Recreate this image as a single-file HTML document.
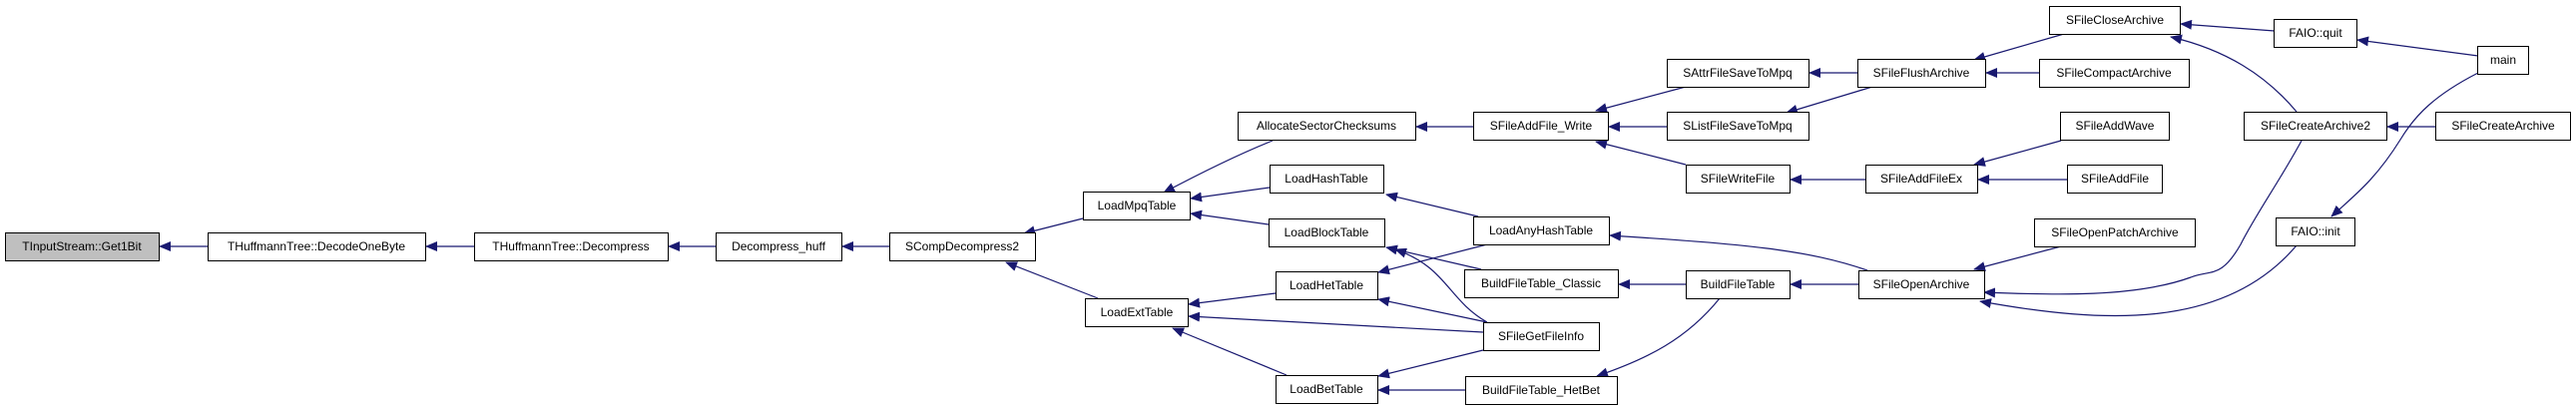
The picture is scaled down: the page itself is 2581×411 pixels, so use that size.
<!DOCTYPE html>
<html><head><meta charset="utf-8"><style>
html,body{margin:0;padding:0;background:#fff;}
svg{display:block}
text{font-family:"Liberation Sans",sans-serif;font-size:12px;fill:#000;text-anchor:middle;dominant-baseline:central}
.e{fill:none;stroke:#191970;stroke-width:1.2}
rect{fill:#fff;stroke:#000;stroke-width:1}
</style></head><body>
<svg width="2581" height="411" viewBox="0 0 2581 411" xmlns="http://www.w3.org/2000/svg">
<defs><marker id="a" markerWidth="12" markerHeight="10" refX="11" refY="5" orient="auto" markerUnits="userSpaceOnUse"><path d="M0,0 L12,5 L0,10 z" fill="#191970"/></marker></defs>
<g class="edges">
<path class="e" marker-end="url(#a)" d="M208,247 L160,247"/>
<path class="e" marker-end="url(#a)" d="M475,247 L427,247"/>
<path class="e" marker-end="url(#a)" d="M717,247 L670,247"/>
<path class="e" marker-end="url(#a)" d="M891,247 L844,247"/>
<path class="e" marker-end="url(#a)" d="M1085,219 L1026,234"/>
<path class="e" marker-end="url(#a)" d="M1100,299 L1008,263"/>
<path class="e" marker-end="url(#a)" d="M1275,141 C1240,155 1200,175 1166,193"/>
<path class="e" marker-end="url(#a)" d="M1272,188 L1193,199"/>
<path class="e" marker-end="url(#a)" d="M1271,225 L1193,214"/>
<path class="e" marker-end="url(#a)" d="M1476,127 L1419,127"/>
<path class="e" marker-end="url(#a)" d="M1278,294 L1191,305"/>
<path class="e" marker-end="url(#a)" d="M1486,333 L1191,317"/>
<path class="e" marker-end="url(#a)" d="M1289,376 L1175,329"/>
<path class="e" marker-end="url(#a)" d="M1490,245 L1381,273"/>
<path class="e" marker-end="url(#a)" d="M1481,217 L1389,195"/>
<path class="e" marker-end="url(#a)" d="M1484,270 L1389,248"/>
<path class="e" marker-end="url(#a)" d="M1490,323 C1450,300 1450,268 1398,250"/>
<path class="e" marker-end="url(#a)" d="M1490,323 L1381,300"/>
<path class="e" marker-end="url(#a)" d="M1486,351 L1381,377"/>
<path class="e" marker-end="url(#a)" d="M1468,391 L1381,391"/>
<path class="e" marker-end="url(#a)" d="M1689,87 L1599,111"/>
<path class="e" marker-end="url(#a)" d="M1670,127 L1612,127"/>
<path class="e" marker-end="url(#a)" d="M1689,165 L1599,142"/>
<path class="e" marker-end="url(#a)" d="M1689,285 L1622,285"/>
<path class="e" marker-end="url(#a)" d="M1723,299 C1690,340 1650,360 1600,377"/>
<path class="e" marker-end="url(#a)" d="M1871,271 C1810,250 1750,245 1613,236"/>
<path class="e" marker-end="url(#a)" d="M1862,285 L1794,285"/>
<path class="e" marker-end="url(#a)" d="M1861,73 L1813,73"/>
<path class="e" marker-end="url(#a)" d="M1876,87 L1790,113"/>
<path class="e" marker-end="url(#a)" d="M1869,180 L1794,180"/>
<path class="e" marker-end="url(#a)" d="M2068,34 L1978,60"/>
<path class="e" marker-end="url(#a)" d="M2043,73 L1990,73"/>
<path class="e" marker-end="url(#a)" d="M2065,141 L1978,165"/>
<path class="e" marker-end="url(#a)" d="M2071,180 L1982,180"/>
<path class="e" marker-end="url(#a)" d="M2065,247 L1978,270"/>
<path class="e" marker-end="url(#a)" d="M2279,31 L2185,24"/>
<path class="e" marker-end="url(#a)" d="M2301,112 C2270,75 2230,50 2175,37"/>
<path class="e" marker-end="url(#a)" d="M2306,141 C2285,180 2260,215 2245,245 C2225,280 2215,270 2195,278 C2140,298 2060,296 1988,293"/>
<path class="e" marker-end="url(#a)" d="M2301,246 C2230,330 2110,325 1984,302"/>
<path class="e" marker-end="url(#a)" d="M2483,56 L2362,40"/>
<path class="e" marker-end="url(#a)" d="M2483,73 C2440,95 2420,115 2405,140 C2380,180 2360,195 2336,217"/>
<path class="e" marker-end="url(#a)" d="M2440,127 L2392,127"/>
</g>
<g>
<rect x="5.5" y="233.5" width="154" height="28" style="fill:#bfbfbf"/><text x="82" y="247">TInputStream::Get1Bit</text>
<rect x="208.5" y="233.5" width="218" height="28"/><text x="317" y="247">THuffmannTree::DecodeOneByte</text>
<rect x="475.5" y="233.5" width="194" height="28"/><text x="572" y="247">THuffmannTree::Decompress</text>
<rect x="717.5" y="233.5" width="126" height="28"/><text x="780" y="247">Decompress_huff</text>
<rect x="891.5" y="233.5" width="146" height="28"/><text x="964" y="247">SCompDecompress2</text>
<rect x="1085.5" y="192.5" width="107" height="28"/><text x="1139" y="206">LoadMpqTable</text>
<rect x="1087.5" y="299.5" width="103" height="28"/><text x="1139" y="313">LoadExtTable</text>
<rect x="1240.5" y="112.5" width="178" height="28"/><text x="1329" y="126">AllocateSectorChecksums</text>
<rect x="1272.5" y="165.5" width="114" height="28"/><text x="1329" y="179">LoadHashTable</text>
<rect x="1271.5" y="219.5" width="116" height="28"/><text x="1329" y="233">LoadBlockTable</text>
<rect x="1278.5" y="272.5" width="102" height="28"/><text x="1329" y="286">LoadHetTable</text>
<rect x="1278.5" y="376.5" width="102" height="28"/><text x="1329" y="390">LoadBetTable</text>
<rect x="1476.5" y="112.5" width="135" height="28"/><text x="1544" y="126">SFileAddFile_Write</text>
<rect x="1476.5" y="217.5" width="136" height="28"/><text x="1544" y="231">LoadAnyHashTable</text>
<rect x="1467.5" y="270.5" width="154" height="28"/><text x="1544" y="284">BuildFileTable_Classic</text>
<rect x="1486.5" y="323.5" width="116" height="28"/><text x="1544" y="337">SFileGetFileInfo</text>
<rect x="1468.5" y="377.5" width="152" height="28"/><text x="1544" y="391">BuildFileTable_HetBet</text>
<rect x="1670.5" y="59.5" width="142" height="28"/><text x="1741" y="73">SAttrFileSaveToMpq</text>
<rect x="1670.5" y="112.5" width="142" height="28"/><text x="1741" y="126">SListFileSaveToMpq</text>
<rect x="1689.5" y="165.5" width="104" height="28"/><text x="1741" y="179">SFileWriteFile</text>
<rect x="1689.5" y="271.5" width="104" height="28"/><text x="1741" y="285">BuildFileTable</text>
<rect x="1861.5" y="59.5" width="128" height="28"/><text x="1925" y="73">SFileFlushArchive</text>
<rect x="1869.5" y="165.5" width="112" height="28"/><text x="1925" y="179">SFileAddFileEx</text>
<rect x="1862.5" y="271.5" width="126" height="28"/><text x="1925" y="285">SFileOpenArchive</text>
<rect x="2053.5" y="6.5" width="131" height="28"/><text x="2119" y="20">SFileCloseArchive</text>
<rect x="2043.5" y="59.5" width="150" height="28"/><text x="2118" y="73">SFileCompactArchive</text>
<rect x="2064.5" y="112.5" width="109" height="28"/><text x="2119" y="126">SFileAddWave</text>
<rect x="2071.5" y="165.5" width="95" height="28"/><text x="2119" y="179">SFileAddFile</text>
<rect x="2038.5" y="219.5" width="161" height="28"/><text x="2119" y="233">SFileOpenPatchArchive</text>
<rect x="2278.5" y="19.5" width="83" height="28"/><text x="2320" y="33">FAIO::quit</text>
<rect x="2248.5" y="112.5" width="143" height="28"/><text x="2320" y="126">SFileCreateArchive2</text>
<rect x="2280.5" y="218.5" width="79" height="28"/><text x="2320" y="232">FAIO::init</text>
<rect x="2482.5" y="46.5" width="51" height="28"/><text x="2508" y="60">main</text>
<rect x="2440.5" y="112.5" width="135" height="28"/><text x="2508" y="126">SFileCreateArchive</text>
</g>
</svg>
</body></html>
